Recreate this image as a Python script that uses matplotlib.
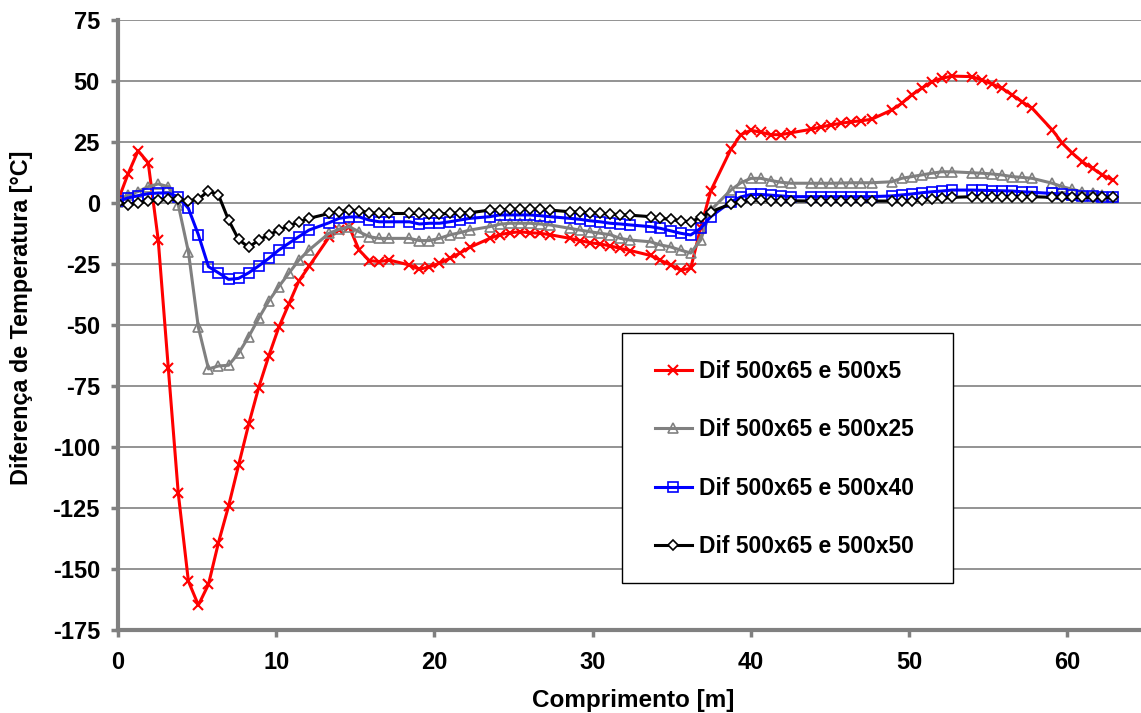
import matplotlib
matplotlib.use("Agg")
import matplotlib.pyplot as plt
from matplotlib.patches import Rectangle

plt.rcParams["font.family"] = ["Liberation Sans", "DejaVu Sans"]
plt.rcParams["font.weight"] = "bold"
plt.rcParams["axes.unicode_minus"] = False

# Posição ao longo do comprimento [m]
comprimento = [
    0.00, 0.64, 1.27, 1.91, 2.54, 3.18, 3.81, 4.45, 5.08, 5.72,
    6.35, 6.99, 7.62, 8.26, 8.89, 9.53, 10.16, 10.80, 11.43, 12.07,
    13.34, 13.97, 14.61, 15.24, 15.88, 16.51, 17.15,
    18.42, 19.05, 19.69, 20.32, 20.96, 21.59, 22.23,
    23.50, 24.13, 24.77, 25.40, 26.04, 26.67, 27.31,
    28.58, 29.21, 29.85, 30.48, 31.12, 31.75, 32.39,
    33.66, 34.29, 34.93, 35.56, 36.20, 36.83, 37.47,
    38.74, 39.37, 40.01, 40.64, 41.28, 41.91, 42.55,
    43.82, 44.45, 45.09, 45.72, 46.36, 46.99, 47.63,
    48.90, 49.53, 50.17, 50.80, 51.44, 52.07, 52.71,
    53.98, 54.61, 55.25, 55.88, 56.52, 57.15, 57.79,
    59.06, 59.69, 60.33, 60.96, 61.60, 62.23, 62.87,
]

dif_5 = [
    1, 12, 21.4, 16.5, -15, -67.7, -119, -155, -164.8, -156.3,
    -139.2, -124.2, -107.5, -90.7, -75.7, -62.7, -51, -41.4, -32, -26,
    -14, -11, -9.7, -19.3, -23.6, -24, -23.4,
    -25.4, -27.2, -26.1, -24.7, -22.7, -20.6, -18.2,
    -14.5, -13, -12.2, -11.8, -12.2, -12.4, -13,
    -14.5, -15.4, -16.3, -16.8, -17.6, -18.6, -19.5,
    -21.5, -23.5, -25.4, -27.5, -26.8, -10.2, 5,
    22, 28, 29.8, 29, 28, 28, 28.8,
    30.2, 31.2, 32, 32.7, 33.3, 33.7, 34.3,
    38.1, 40.8, 44.3, 47, 49.7, 51.1, 52,
    51.8, 50.4, 48.8, 47, 44.3, 41.5, 38.8,
    29.9, 24.5, 20.4, 16.9, 14.2, 11.5, 9.4,
]

dif_25 = [
    0.5, 3.3, 4.7, 6.7, 7.8, 6.7, -0.8, -20, -51, -68,
    -66.8, -66.5, -61.6, -54.8, -47.3, -40.2, -34.3, -28.8, -23.4, -19.3,
    -12.4, -10.8, -9.7, -11.8, -13.8, -14.5, -14.5,
    -14.5, -15.4, -15.4, -14.5, -13.1, -12.2, -11.1,
    -9.7, -8.7, -8.3, -8.3, -8.3, -8.6, -9,
    -10.4, -11.1, -11.8, -12.4, -13, -14.5, -15.2,
    -15.9, -17.2, -18, -19.3, -20.5, -15.2, -2.9,
    5.3, 8.3, 10.1, 10.1, 9.2, 8.5, 8.1,
    8.1, 8.1, 8.1, 8.2, 8.3, 8.3, 8.3,
    8.7, 10.1, 10.8, 11.5, 12.2, 12.8, 12.8,
    12.4, 12.2, 11.9, 11.5, 10.8, 10.5, 10.1,
    8.1, 6.7, 5.6, 4.6, 3.9, 3.2, 2.5,
]

dif_40 = [
    0.7, 2.1, 3, 3.8, 4.1, 4.1, 2.6, -2.2, -13, -26.1,
    -28.6, -31.3, -30.9, -28.6, -25.8, -22.7, -19.3, -16.5, -13.8, -11.1,
    -8.1, -6.3, -5.7, -5.7, -7, -7.7, -7.7,
    -7.7, -8.6, -8.3, -8.3, -7.7, -7, -6.3,
    -5.6, -4.9, -4.9, -4.9, -4.9, -5.2, -5.6,
    -6.3, -6.7, -7.3, -7.7, -8.3, -8.6, -9,
    -9.7, -10.4, -11.4, -12.4, -13.1, -10.4, -5.6,
    0.5, 2.5, 3.5, 3.5, 3.2, 2.9, 2.6,
    2.6, 2.6, 2.6, 2.6, 2.6, 2.6, 2.6,
    2.9, 3.3, 3.7, 4.2, 4.6, 4.9, 5.3,
    5.3, 5.2, 5.1, 5.0, 4.9, 4.6, 4.4,
    3.9, 3.7, 3.3, 3.0, 2.9, 2.6, 2.6,
]

dif_50 = [
    0.1, -0.8, 0.1, 0.8, 1.2, 1.5, 1.5, 0.8, 1.5, 5,
    3.3, -7, -14.9, -18.2, -15.2, -13.1, -11.1, -9.4, -7.7, -6.3,
    -4.3, -3.6, -2.9, -3.2, -4, -4.3, -4.3,
    -4.3, -4.3, -4.5, -4.5, -4.3, -4, -4,
    -2.9, -2.9, -2.6, -2.6, -2.6, -2.6, -2.9,
    -3.6, -3.8, -4, -4.3, -4.5, -4.8, -5,
    -5.6, -6.3, -6.7, -7.3, -7.7, -5.9, -3.6,
    -0.4, 0.5, 1.2, 1.2, 1.0, 0.9, 0.9,
    0.8, 0.8, 0.8, 0.8, 0.8, 0.8, 0.8,
    0.8, 0.8, 0.9, 1.2, 1.5, 1.9, 2.3,
    2.6, 2.6, 2.6, 2.6, 2.6, 2.6, 2.6,
    2.3, 2.3, 2.3, 2.3, 2.3, 2.3, 2.3,
]

series = [
    ("Dif 500x65 e 500x5", dif_5, dict(color="#FF0000", marker="x", ms=7, mew=1.5)),
    ("Dif 500x65 e 500x25", dif_25, dict(color="#808080", marker="^", ms=7, mew=1.2, mfc="none")),
    ("Dif 500x65 e 500x40", dif_40, dict(color="#0000FF", marker="s", ms=7, mew=1.2, mfc="none")),
    ("Dif 500x65 e 500x50", dif_50, dict(color="#000000", marker="D", ms=5, mew=1.2, mfc="white")),
]

W, H = 1141, 713
fig = plt.figure(figsize=(W / 100, H / 100), dpi=100)
ax = fig.add_axes([118 / W, 1 - 630 / H, (W - 118) / W, 610 / H])

handles = []
for label, vals, style in series:
    ln, = ax.plot(comprimento, vals, lw=2.2, label=label, **style)
    handles.append(ln)

ax.set_xlim(0, (W - 118) / 15.82)
ax.set_ylim(-175, 75)
ax.set_xticks(range(0, 61, 10))
ax.set_yticks(range(-175, 76, 25))

ax.set_axisbelow(True)
ax.yaxis.grid(True, color="#808080", lw=1.2)
for side in ("top", "right"):
    ax.spines[side].set_visible(False)
for side in ("left", "bottom"):
    ax.spines[side].set_color("#808080")
    ax.spines[side].set_linewidth(3)
ax.tick_params(color="#808080", labelcolor="black", width=2.5, length=5,
               direction="out", labelsize=17)
ax.tick_params(axis="y", pad=8)
ax.tick_params(axis="x", pad=10)

fig.text(0.555, 1 - 701 / H, "Comprimento [m]", ha="center", va="center", fontsize=17.5)
fig.text(22 / W, 1 - 318 / H, "Diferença de Temperatura [°C]", rotation=90,
         ha="center", va="center", fontsize=16.8)

# caixa da legenda
box = Rectangle((622 / W, 1 - 583 / H), 331 / W, 250 / H, transform=fig.transFigure,
                facecolor="white", edgecolor="black", lw=1.0, zorder=5)
fig.add_artist(box)
leg = fig.legend(handles=handles, loc="center left",
                 bbox_to_anchor=(655 / W, 1 - 459 / H), bbox_transform=fig.transFigure,
                 frameon=False, fontsize=16.5, numpoints=1, handlelength=1.6,
                 handletextpad=0.3, labelspacing=1.55, borderpad=0, borderaxespad=0)
leg.set_zorder(6)

fig.savefig("out.png", dpi=100)
